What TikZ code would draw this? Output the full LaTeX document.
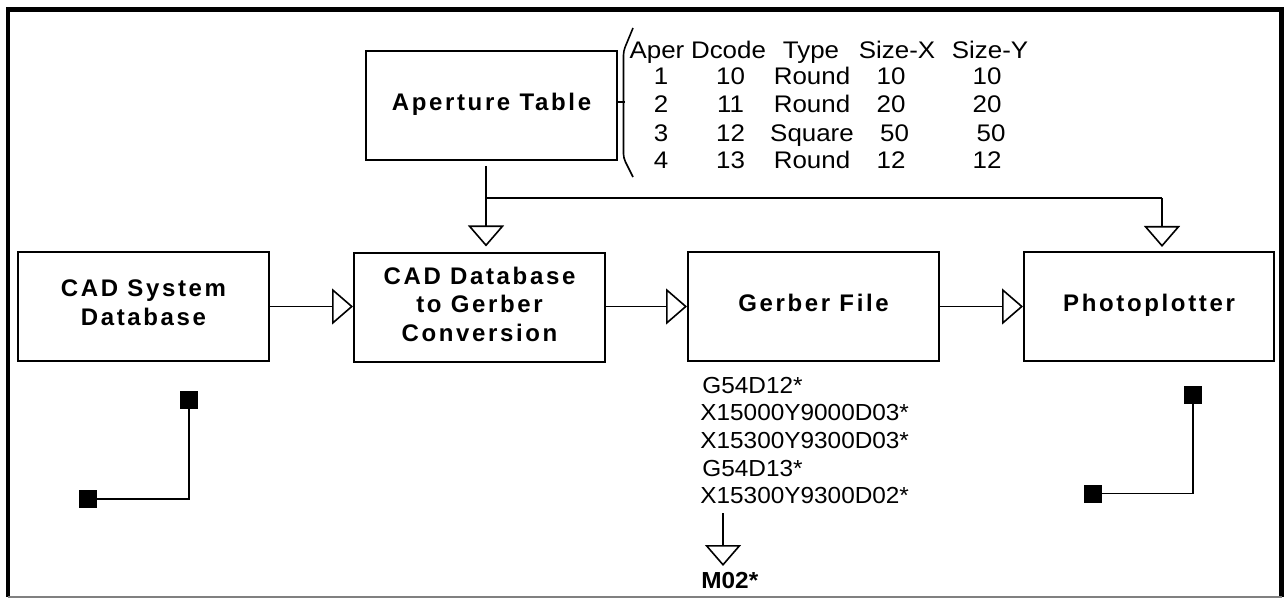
\documentclass[tikz,border=0pt]{standalone}
\usepackage{fontspec}
\setmainfont{Liberation Sans}
\newfontfamily\boxfont[LetterSpace=11]{Liberation Sans}
\newfontfamily\tabfont[FakeStretch=1.08]{Liberation Sans}
\newfontfamily\codefont[FakeStretch=1.05]{Liberation Sans}
\usetikzlibrary{arrows.meta}
\begin{document}
\begin{tikzpicture}[x=0.5pt,y=-0.5pt,
  box/.style={draw, line width=1pt, minimum width=125.5pt, minimum height=54.5pt,
    inner sep=0pt, align=center, text depth=4pt,
    font=\boxfont\bfseries\fontsize{12}{14.25}\selectfont},
  arr/.style={line width=0.8pt, -{Triangle[open,width=18pt,length=10.5pt]}},
  ln/.style={line width=0.8pt},
  tab/.style={anchor=base, inner sep=0pt, font=\tabfont\fontsize{12}{14}\selectfont},
  code/.style={anchor=base west, inner sep=0pt, font=\codefont\fontsize{11.6}{14}\selectfont},
  pad/.style={fill=black, minimum size=9pt, inner sep=0pt}]
\useasboundingbox (0,0) rectangle (1284,598);
% frame
\draw[line width=2.3pt] (8,597) -- (8,9.5) -- (1281.5,9.5) -- (1281.5,597);
\draw[gray, line width=0.6pt] (8,597) -- (1281.5,597);
% boxes
\node[box] (ap) at (491.5,105.5) {Aperture Table};
\node[box] (cad) at (143.5,306.5) {CAD System\\Database};
\node[box] (conv) at (479.5,308) {CAD Database\\to Gerber\\Conversion};
\node[box] (gerb) at (813.5,306.5) {Gerber File};
\node[box, minimum width=125pt] (photo) at (1149,306.5) {Photoplotter};
% main flow
\draw[arr] (cad.east) -- (cad.east -| conv.west);
\draw[arr] (conv.east |- gerb.west) -- (gerb.west);
\draw[arr] (gerb.east) -- (photo.west);
% aperture feed
\coordinate (apo) at (486,166);
\coordinate (jn) at (486,198);
\coordinate (pin) at (1162,198);
\draw[arr, shorten >=3pt] (apo) -- (apo |- conv.north);
\draw[ln] (jn) -- (pin);
\draw[arr, shorten >=2pt] (pin) -- (pin |- photo.north);
% bracket
\draw[ln] ([yshift=1.75pt]ap.east) -- ++(6.5,0);
\draw[ln, rounded corners=2pt] (633,28) -- (623.5,51) -- (623.5,158) -- (633,177);
% table
\node[tab] (h1) at (657,58.5) {Aper};
\node[tab] (h2) at (728.5,58.5) {Dcode};
\node[tab] (h3) at (811,58.5) {Type};
\node[tab] (h4) at (897,58.5) {Size-X};
\node[tab] (h5) at (990,58.5) {Size-Y};
\foreach \n/\y/\d/\t/\sx/\sy/\ox in {1/85/10/Round/10/10/0, 2/113/11/Round/20/20/0, 3/141.5/12/Square/50/50/1, 4/169/13/Round/12/12/0}{
  \node[tab] (r\n a) at (661,\y) {\n};
  \node[tab] (r\n b) at (730.5,\y) {\d};
  \node[tab] (r\n c) at (812,\y) {\t};
  \node[tab] (r\n d) at (891+3.5*\ox,\y) {\sx};
  \node[tab] (r\n e) at (987+4*\ox,\y) {\sy};
}
% gerber code
\node[code] (c1) at (702,393.5) {G54D12*};
\node[code] (c2) at (700,420) {X15000Y9000D03*};
\node[code] (c3) at (700,448) {X15300Y9300D03*};
\node[code] (c4) at (702,476) {G54D13*};
\node[code] (c5) at (700,503.5) {X15300Y9300D02*};
\node[code, font=\codefont\bfseries\fontsize{11.6}{14}\selectfont] (m02) at (701,588) {M02*};
\coordinate (gs) at (723,513);
\coordinate (ge) at (723,566);
\draw[arr] (gs) -- (ge);
% small traces
\node[pad] (pa1) at (189,400) {};
\node[pad] (pa2) at (88,499) {};
\draw[ln] (pa1) |- (pa2);
\node[pad] (pb1) at (1193,395) {};
\node[pad] (pb2) at (1093,493.5) {};
\draw[ln] (pb1) |- (pb2);
\end{tikzpicture}
\end{document}
